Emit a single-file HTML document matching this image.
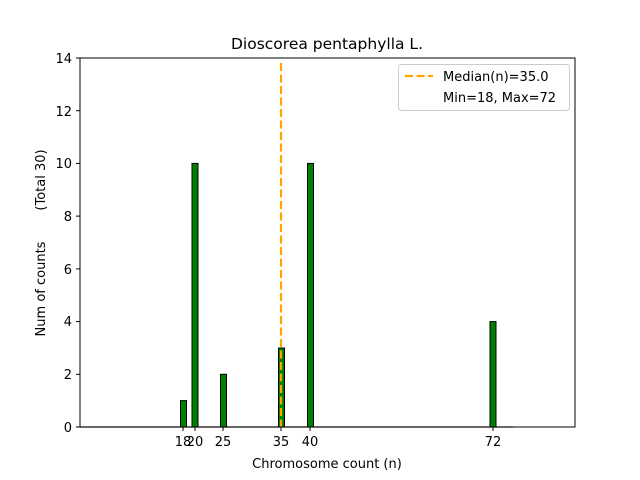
<!DOCTYPE html>
<html><head><meta charset="utf-8"><style>body{margin:0;background:#fff}svg{display:block}text{font-family:"DejaVu Sans","Liberation Sans",sans-serif;fill:#000}</style></head><body>
<svg width="640" height="480" viewBox="0 0 640 480">
<rect width="640" height="480" fill="#fff"/>
<line x1="80" y1="427" x2="513" y2="427" stroke="#999" stroke-width="1.5"/>
<g fill="#008000" stroke="#000" stroke-width="1">
<rect x="180.5" y="400.6" width="6" height="26.4"/>
<rect x="192" y="163.4" width="6" height="263.6"/>
<rect x="220.5" y="374.3" width="6" height="52.7"/>
<rect x="278.5" y="348" width="6" height="79"/>
<rect x="307.5" y="163.4" width="6" height="263.6"/>
<rect x="490" y="321.6" width="6" height="105.4"/>
</g>
<line x1="281" y1="63" x2="281" y2="427" stroke="#ffa500" stroke-width="2.2" stroke-dasharray="8,3.5"/>
<rect x="80" y="58" width="495" height="369" fill="none" stroke="#000" stroke-width="1"/>
<g stroke="#000" stroke-width="1">
<line x1="183" y1="427" x2="183" y2="431"/><line x1="195" y1="427" x2="195" y2="431"/><line x1="223" y1="427" x2="223" y2="431"/><line x1="281" y1="427" x2="281" y2="431"/><line x1="310" y1="427" x2="310" y2="431"/><line x1="493" y1="427" x2="493" y2="431"/>
<line x1="76" y1="427" x2="80" y2="427"/><line x1="76" y1="374.3" x2="80" y2="374.3"/><line x1="76" y1="321.6" x2="80" y2="321.6"/><line x1="76" y1="268.9" x2="80" y2="268.9"/><line x1="76" y1="216.1" x2="80" y2="216.1"/><line x1="76" y1="163.4" x2="80" y2="163.4"/><line x1="76" y1="110.7" x2="80" y2="110.7"/><line x1="76" y1="58" x2="80" y2="58"/>
</g>
<g font-size="13" text-anchor="middle">
<text x="183" y="446">18</text><text x="195" y="446">20</text><text x="223" y="446">25</text><text x="281" y="446">35</text><text x="310" y="446">40</text><text x="493" y="446">72</text>
</g>
<g font-size="13" text-anchor="end">
<text x="72" y="432">0</text><text x="72" y="379">2</text><text x="72" y="326">4</text><text x="72" y="274">6</text><text x="72" y="221">8</text><text x="72" y="168">10</text><text x="72" y="116">12</text><text x="72" y="63">14</text>
</g>
<text x="327" y="468" font-size="13" text-anchor="middle">Chromosome count (n)</text>
<text x="327" y="49" font-size="15.5" text-anchor="middle">Dioscorea pentaphylla L.</text>
<text transform="translate(45,289) rotate(-90)" font-size="13" text-anchor="middle">Num of counts</text>
<text transform="translate(45,180) rotate(-90)" font-size="13" text-anchor="middle">(Total 30)</text>
<rect x="398.5" y="64.5" width="171" height="46" rx="3" fill="#fff" stroke="#ccc"/>
<line x1="405" y1="76" x2="433" y2="76" stroke="#ffa500" stroke-width="2.2" stroke-dasharray="8,3.5"/>
<text x="443" y="81" font-size="13">Median(n)=35.0</text>
<text x="443" y="102" font-size="13">Min=18, Max=72</text>
</svg>
</body></html>
